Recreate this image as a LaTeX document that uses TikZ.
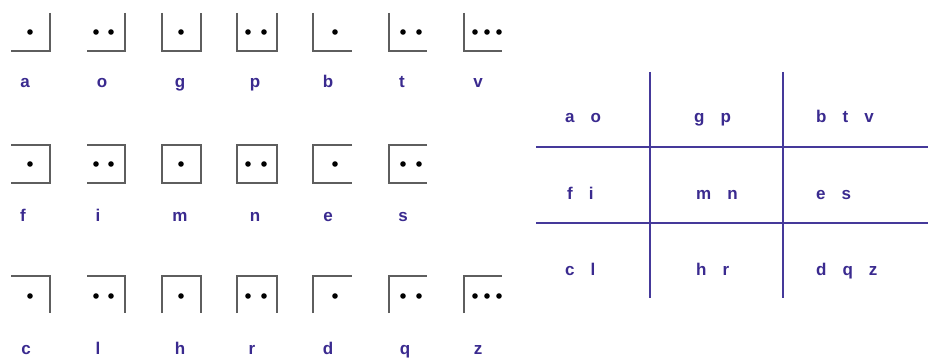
\documentclass[tikz,border=0pt]{standalone}
\usepackage{fontspec}
\setmainfont{Liberation Sans}
\definecolor{ink}{HTML}{3A2A8F}
\definecolor{rule}{HTML}{45399A}
\definecolor{pen}{HTML}{5E5E5E}
\newcommand{\lsp}{\hspace{16pt}}
\tikzset{
  glyph/.style={draw=pen,line width=2.5pt,line join=miter},
  dotm/.style={fill=black},
  lbl/.style={font=\fontsize{17}{20}\selectfont\bfseries,text=ink,inner sep=0pt,anchor=base},
  key/.style={lbl,anchor=base west},
  gridl/.style={draw=rule,line width=2.2pt},
}

\begin{document}
\begin{tikzpicture}[x=1pt,y=-1pt]
\useasboundingbox (0,0) rectangle (928,358);
% row 1: open at the top
\draw[glyph] (50,13) -- (50,51) -- (11,51);
\draw[glyph] (125,13) -- (125,51) -- (87,51);
\draw[glyph] (162,13) -- (162,51) -- (201,51) -- (201,13);
\draw[glyph] (237,13) -- (237,51) -- (277,51) -- (277,13);
\draw[glyph] (313,13) -- (313,51) -- (352,51);
\draw[glyph] (389,13) -- (389,51) -- (427,51);
\draw[glyph] (464,13) -- (464,51) -- (502,51);
\fill[dotm] (30,32) circle (2.8pt) (96,32) circle (2.8pt) (111,32) circle (2.8pt)
  (181,32) circle (2.8pt) (248,32) circle (2.8pt) (264,32) circle (2.8pt)
  (335,32) circle (2.8pt) (403,32) circle (2.8pt) (419,32) circle (2.8pt)
  (475,32) circle (2.8pt) (487,32) circle (2.8pt) (499,32) circle (2.8pt);
\node[lbl] (la) at (25,88) {a};
\node[lbl] (lo) at (102,88) {o};
\node[lbl] (lg) at (180,88) {g};
\node[lbl] (lp) at (255,88) {p};
\node[lbl] (lb) at (328,88) {b};
\node[lbl] (lt) at (402,88) {t};
\node[lbl] (lv) at (478,88) {v};
% row 2: closed top and bottom
\draw[glyph] (11,145) -- (50,145) -- (50,183) -- (11,183);
\draw[glyph] (87,145) -- (125,145) -- (125,183) -- (87,183);
\draw[glyph] (162,145) rectangle (201,183);
\draw[glyph] (237,145) rectangle (277,183);
\draw[glyph] (352,145) -- (313,145) -- (313,183) -- (352,183);
\draw[glyph] (427,145) -- (389,145) -- (389,183) -- (427,183);
\fill[dotm] (30,164) circle (2.8pt) (96,164) circle (2.8pt) (111,164) circle (2.8pt)
  (181,164) circle (2.8pt) (248,164) circle (2.8pt) (264,164) circle (2.8pt)
  (335,164) circle (2.8pt) (403,164) circle (2.8pt) (419,164) circle (2.8pt);
\node[lbl] (lf) at (23,221) {f};
\node[lbl] (li) at (98,221) {i};
\node[lbl] (lm) at (180,221) {m};
\node[lbl] (ln) at (255,221) {n};
\node[lbl] (le) at (328,221) {e};
\node[lbl] (ls) at (403,221) {s};
% row 3: open at the bottom
\draw[glyph] (11,276) -- (50,276) -- (50,313);
\draw[glyph] (87,276) -- (125,276) -- (125,313);
\draw[glyph] (162,313) -- (162,276) -- (201,276) -- (201,313);
\draw[glyph] (237,313) -- (237,276) -- (277,276) -- (277,313);
\draw[glyph] (313,313) -- (313,276) -- (352,276);
\draw[glyph] (389,313) -- (389,276) -- (427,276);
\draw[glyph] (464,313) -- (464,276) -- (502,276);
\fill[dotm] (30,296) circle (2.8pt) (96,296) circle (2.8pt) (111,296) circle (2.8pt)
  (181,296) circle (2.8pt) (248,296) circle (2.8pt) (264,296) circle (2.8pt)
  (335,296) circle (2.8pt) (403,296) circle (2.8pt) (419,296) circle (2.8pt)
  (475,296) circle (2.8pt) (487,296) circle (2.8pt) (499,296) circle (2.8pt);
\node[lbl] (lc) at (26,354) {c};
\node[lbl] (ll) at (98,354) {l};
\node[lbl] (lh) at (180,354) {h};
\node[lbl] (lr) at (252,354) {r};
\node[lbl] (ld) at (328,354) {d};
\node[lbl] (lq) at (405,354) {q};
\node[lbl] (lz) at (478,354) {z};
% key grid
\draw[gridl] (650,72) -- (650,298);
\draw[gridl] (783,72) -- (783,298);
\draw[gridl] (536,147) -- (928,147);
\draw[gridl] (536,223) -- (928,223);
\node[key] (kao) at (565,123) {a\lsp o};
\node[key] (kgp) at (694,123) {g\lsp p};
\node[key] (kbtv) at (816,123) {b\lsp t\lsp v};
\node[key] (kfi) at (567,200) {f\lsp i};
\node[key] (kmn) at (696,200) {m\lsp n};
\node[key] (kes) at (816,200) {e\lsp s};
\node[key] (kcl) at (565,275) {c\lsp l};
\node[key] (khr) at (696,275) {h\lsp r};
\node[key] (kdqz) at (816,275) {d\lsp q\lsp z};
\end{tikzpicture}
\end{document}
